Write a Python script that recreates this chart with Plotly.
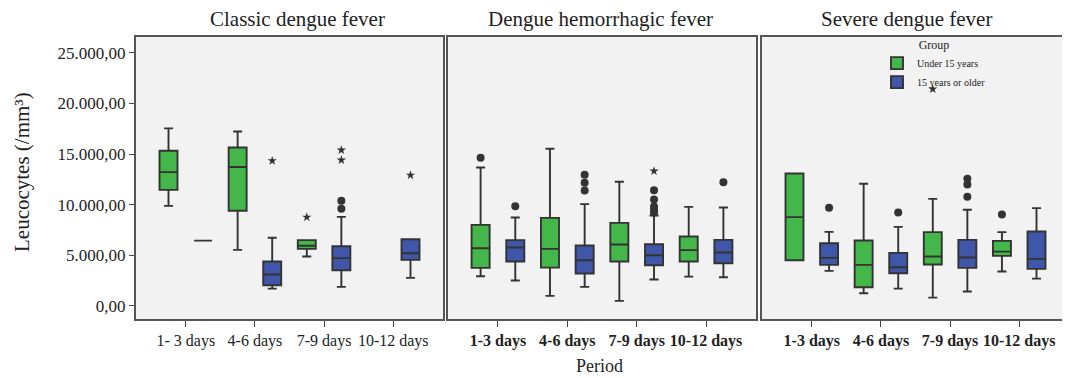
import plotly.graph_objects as go

# ---------------- data ----------------
CATEGORIES = ["1-3 days", "4-6 days", "7-9 days", "10-12 days"]
TICKS_CLASSIC = ["1- 3 days", "4-6 days", "7-9 days", "10-12 days"]
TICKS_OTHER = ["<b>1-3 days</b>", "<b>4-6 days</b>", "<b>7-9 days</b>", "<b>10-12 days</b>"]
PANEL_TITLES = ["Classic dengue fever", "Dengue hemorrhagic fever", "Severe dengue fever"]
GROUPS = ["Under 15 years", "15 years or older"]

# five-number summaries per period: [lower whisker, Q1, median, Q3, upper whisker]
classic_under15 = [[9890, 11470, 13220, 15330, 17540],
                   [5540, 9400, 13720, 15660, 17240],
                   [4880, 5640, 5940, 6500, 6500],
                   None]
classic_15plus = [[6450, 6450, 6450, 6450, 6450],
                  [1710, 2040, 3100, 4390, 6730],
                  [1880, 3530, 4720, 5900, 8800],
                  [2770, 4550, 5210, 6590, 6590]]
dhf_under15 = [[2930, 3760, 5700, 8010, 13680],
               [990, 3790, 5640, 8700, 15530],
               [500, 4390, 6070, 8210, 12270],
               [2900, 4390, 5510, 6860, 9790]]
dhf_15plus = [[2510, 4390, 5770, 6500, 8740],
              [1880, 3200, 4520, 5970, 10060],
              [2610, 4020, 5010, 6100, 8940],
              [2840, 4220, 5280, 6530, 9730]]
severe_under15 = [[4520, 4520, 8770, 13090, 13090],
                  [1250, 1850, 4060, 6460, 12070],
                  [820, 4090, 4880, 7290, 10580],
                  [3400, 4950, 5370, 6430, 7290]]
severe_15plus = [[3460, 4060, 4750, 6200, 7320],
                 [1710, 3230, 3830, 5240, 7810],
                 [1420, 3760, 4780, 6530, 9500],
                 [2700, 3660, 4650, 7350, 9660]]

# outliers (circles) and extremes (stars): (period, value)
classic_under15_out = []
classic_under15_ext = [("7-9 days", 8770)]
classic_15plus_out = [("7-9 days", 10390), ("7-9 days", 9590)]
classic_15plus_ext = [("4-6 days", 14340), ("7-9 days", 15400), ("7-9 days", 14410), ("10-12 days", 12920)]
dhf_under15_out = [("1-3 days", 14640)]
dhf_under15_ext = []
dhf_15plus_out = [("1-3 days", 9860), ("4-6 days", 12960), ("4-6 days", 12170), ("4-6 days", 11410),
                  ("7-9 days", 11440), ("7-9 days", 10520), ("7-9 days", 9830), ("7-9 days", 9500),
                  ("7-9 days", 9230), ("10-12 days", 12230)]
dhf_15plus_ext = [("7-9 days", 13320)]
severe_under15_out = [("10-12 days", 9030)]
severe_under15_ext = [("7-9 days", 21430)]
severe_15plus_out = [("1-3 days", 9690), ("4-6 days", 9230), ("7-9 days", 12560), ("7-9 days", 12000),
                     ("7-9 days", 10780)]
severe_15plus_ext = []

# ---------------- style ----------------
GREEN = "#43b74a"
BLUE = "#3f56a9"
EDGE = "#333333"
FONT = "Liberation Serif, Times New Roman, serif"
# the page body has an 8px margin; size the figure so it fits the 1070x378 window
OFF = 8
W, H = 1070 - OFF, 378 - OFF


def px(x):
    return (x - OFF) / W


def py(y):
    return 1 - (y - OFF) / H


panels = [
    (classic_under15, classic_15plus, classic_under15_out, classic_under15_ext, classic_15plus_out, classic_15plus_ext),
    (dhf_under15, dhf_15plus, dhf_under15_out, dhf_under15_ext, dhf_15plus_out, dhf_15plus_ext),
    (severe_under15, severe_15plus, severe_under15_out, severe_under15_ext, severe_15plus_out, severe_15plus_ext),
]

fig = go.Figure()

for p, (u_stats, o_stats, u_out, u_ext, o_out, o_ext) in enumerate(panels):
    xa = "x" if p == 0 else f"x{p + 1}"
    ya = "y" if p == 0 else f"y{p + 1}"
    for g, (stats, color, outs, exts, og) in enumerate([
        (u_stats, GREEN, u_out, u_ext, "under"),
        (o_stats, BLUE, o_out, o_ext, "older"),
    ]):
        cats = [c for c, s in zip(CATEGORIES, stats) if s is not None]
        vals = [s for s in stats if s is not None]
        fig.add_trace(go.Box(
            x=cats,
            lowerfence=[v[0] for v in vals],
            q1=[v[1] for v in vals],
            median=[v[2] for v in vals],
            q3=[v[3] for v in vals],
            upperfence=[v[4] for v in vals],
            name=GROUPS[g], legendgroup=GROUPS[g], showlegend=(p == 0),
            fillcolor=color, line=dict(color=EDGE, width=1.9),
            whiskerwidth=0.5, boxpoints=False,
            offsetgroup=og, alignmentgroup=f"a{p}",
            xaxis=xa, yaxis=ya, hoverinfo="skip",
        ))
        for pts, sym, size in [(outs, "circle", 8), (exts, "star", 7)]:
            if not pts:
                continue
            fig.add_trace(go.Box(
                x=[c for c, _ in pts], y=[v for _, v in pts],
                boxpoints="all", jitter=0, pointpos=0,
                fillcolor="rgba(0,0,0,0)", line=dict(width=0, color="rgba(0,0,0,0)"),
                marker=dict(symbol=sym, size=size, color=EDGE),
                showlegend=False, offsetgroup=og, alignmentgroup=f"a{p}",
                xaxis=xa, yaxis=ya, hoverinfo="skip",
            ))

# panel geometry (reference pixels)
x_edges = [(136, 443), (448, 756), (762, 1069)]
y_top, y_bot = 37, 319
ydom = [py(y_bot), py(y_top)]

layout = dict(
    width=W, height=H,
    margin=dict(l=0, r=0, t=0, b=0),
    paper_bgcolor="white", plot_bgcolor="#f2f2f2",
    boxmode="group", boxgap=0, boxgroupgap=0.48,
    separators=",.",
    font=dict(family=FONT, color="#222222"),
    showlegend=True,
    legend=dict(
        x=px(877), y=py(33), xanchor="left", yanchor="top",
        bgcolor="rgba(0,0,0,0)", font=dict(size=10, family=FONT, color="#222"),
        title=dict(text="Group", side="top center", font=dict(size=12, family=FONT, color="#222")),
        tracegroupgap=0,
    ),
)

for p, (x0, x1) in enumerate(x_edges):
    sfx = "" if p == 0 else str(p + 1)
    layout[f"xaxis{sfx}"] = dict(
        domain=[px(x0), px(x1)], anchor=f"y{sfx}",
        type="category", categoryorder="array", categoryarray=CATEGORIES,
        tickmode="array", tickvals=CATEGORIES,
        ticktext=TICKS_CLASSIC if p == 0 else TICKS_OTHER,
        range=[-0.72, 3.72],
        showline=True, mirror=True, linecolor="#555555", linewidth=2,
        ticks="outside", ticklen=6, tickcolor="#444444", tickwidth=1,
        showgrid=False, zeroline=False,
        tickfont=dict(size=16, family=FONT, color="#222"),
    )
    ycfg = dict(
        domain=ydom, anchor=f"x{sfx}",
        range=[-1290, 26570],
        showline=True, mirror=True, linecolor="#555555", linewidth=2,
        showgrid=False, zeroline=False,
    )
    if p == 0:
        ycfg.update(tickmode="linear", tick0=0, dtick=5000, tickformat=",.2f",
                    ticks="outside", ticklen=5, tickcolor="#444444",
                    tickfont=dict(size=17, family=FONT, color="#222"))
    else:
        ycfg.update(matches="y", showticklabels=False, ticks="")
    layout[f"yaxis{sfx}"] = ycfg

fig.update_layout(**layout)

# panel titles
title_x = [297, 600, 906]
for t, xc in zip(PANEL_TITLES, title_x):
    fig.add_annotation(text=t, x=px(xc), y=py(19), xref="paper", yref="paper",
                       xanchor="center", yanchor="middle", showarrow=False,
                       font=dict(size=21, family=FONT, color="#222"))

fig.add_annotation(text="Leucocytes (/mm³)", x=px(22), y=py(172), xref="paper", yref="paper",
                   xanchor="center", yanchor="middle", textangle=-90, showarrow=False,
                   font=dict(size=21, family=FONT, color="#222"))
fig.add_annotation(text="Period", x=px(599), y=py(366), xref="paper", yref="paper",
                   xanchor="center", yanchor="middle", showarrow=False,
                   font=dict(size=18, family=FONT, color="#222"))

fig.write_html("out.html")
